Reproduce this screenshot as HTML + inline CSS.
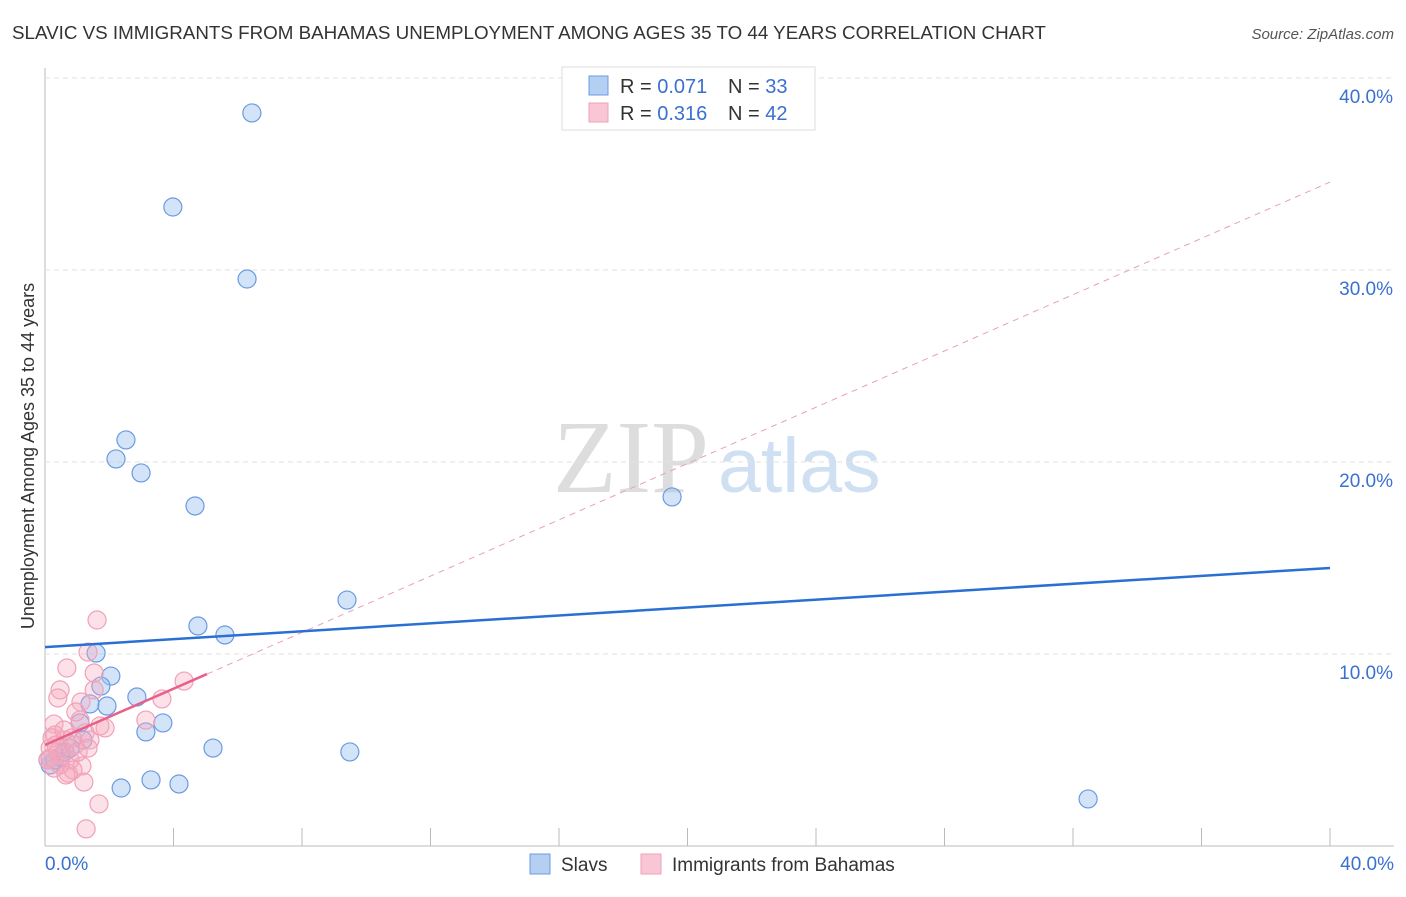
<!DOCTYPE html>
<html><head><meta charset="utf-8"><style>
body{margin:0;background:#fff;font-family:"Liberation Sans",sans-serif;}
</style></head><body>
<svg id="c" width="1406" height="892" xmlns="http://www.w3.org/2000/svg">
<text x="12" y="39" font-size="18.8" fill="#333">SLAVIC VS IMMIGRANTS FROM BAHAMAS UNEMPLOYMENT AMONG AGES 35 TO 44 YEARS CORRELATION CHART</text>
<text x="1394" y="39" font-size="15" fill="#555" text-anchor="end" font-style="italic">Source: ZipAtlas.com</text>
<text x="553" y="492" font-size="104" fill="#ddd" font-family="Liberation Serif,serif">ZIP</text>
<text x="718" y="492" font-size="77" fill="#cfe0f3">atlas</text>
<g id="grid"></g>
<g id="marks"></g>
<text transform="translate(34,456) rotate(-90)" font-size="18" fill="#333" text-anchor="middle">Unemployment Among Ages 35 to 44 years</text>
<g>
<rect x="562" y="67" width="253" height="63" fill="#fff" stroke="#ddd"/>
<rect x="589" y="76" width="19" height="19" fill="#b4cff2" stroke="#6a9be0"/>
<text x="620" y="93" font-size="20" fill="#333">R = <tspan fill="#3a70d0">0.071</tspan></text>
<text x="728" y="93" font-size="20" fill="#333">N = <tspan fill="#3a70d0">33</tspan></text>
<rect x="589" y="103" width="19" height="19" fill="#f8c6d4" stroke="#f0a0b8"/>
<text x="620" y="120" font-size="20" fill="#333">R = <tspan fill="#3a70d0">0.316</tspan></text>
<text x="728" y="120" font-size="20" fill="#333">N = <tspan fill="#3a70d0">42</tspan></text>
</g>
<g>
<rect x="530" y="854" width="20" height="20" fill="#b4cff2" stroke="#6a9be0"/>
<text x="561" y="871" font-size="19" fill="#333">Slavs</text>
<rect x="641" y="854" width="20" height="20" fill="#f8c6d4" stroke="#f0a0b8"/>
<text x="672" y="871" font-size="19" fill="#333">Immigrants from Bahamas</text>
</g>
</svg>
<script>
const yTicks=[10,20,30,40];
const yTickLabels=["10.0%","20.0%","30.0%","40.0%"];
const xTicks=[4,8,12,16,20,24,28,32,36,40];
const slavX=[6.44,3.98,6.29,2.52,2.21,2.99,4.67,19.52,9.40,4.76,5.60,1.59,2.05,1.74,1.40,1.93,2.86,3.67,3.14,1.09,1.18,5.23,9.49,2.37,3.30,4.17,32.47,0.16,0.31,0.47,0.62,0.09,0.78];
const slavY=[38.18,33.28,29.53,21.15,20.16,19.43,17.71,18.18,12.81,11.46,10.99,10.05,8.85,8.33,7.40,7.29,7.76,6.41,5.94,6.41,5.52,5.10,4.90,3.02,3.44,3.23,2.45,4.22,4.48,4.64,4.90,4.48,5.10];
const bahX=[1.62,1.34,0.68,0.47,0.40,1.53,1.53,1.12,1.25,1.87,4.33,3.64,3.14,1.09,0.28,0.31,0.62,0.93,0.16,0.40,0.53,0.09,0.78,1.15,0.72,0.87,1.21,1.68,1.28,0.22,0.34,0.59,0.84,1.40,0.47,0.65,0.16,1.03,1.34,0.28,1.71,0.96];
const bahY=[11.77,10.10,9.27,8.13,7.71,8.13,9.01,7.50,5.89,6.15,8.59,7.66,6.56,6.56,6.35,5.78,5.52,5.26,5.10,4.90,4.74,4.48,4.48,4.17,3.80,3.96,3.33,2.19,0.89,5.63,5.26,6.04,5.63,5.52,4.22,3.70,4.58,4.90,5.10,4.06,6.25,6.98];
const slavTrend=[10.36,14.48];
const bahTrend=[5.26,34.58];
const bahSolidEnd=5.04;
const X=v=>45+v/40*1285, Y=v=>846-v*19.2;
const NS="http://www.w3.org/2000/svg";
function mk(t,a,p){const e=document.createElementNS(NS,t);for(const k in a)e.setAttribute(k,a[k]);p.appendChild(e);return e;}
const g=document.getElementById('grid'), m=document.getElementById('marks');
mk('line',{x1:45,y1:68,x2:45,y2:846,stroke:'#bbb'},g);
mk('line',{x1:45,y1:846,x2:1394,y2:846,stroke:'#bbb'},g);
yTicks.forEach((t,i)=>{
 const l=mk('line',{x1:45,y1:Y(t),x2:1394,y2:Y(t),stroke:'#e2e2e2','stroke-dasharray':'5,4'},g);
 
 
 const tx=mk('text',{x:1393,y:Y(t)+25,'font-size':19,fill:'#3a70d0','text-anchor':'end'},g);
 tx.textContent=yTickLabels[i];
 
 
});
xTicks.forEach(t=>{
 const l=mk('line',{x1:X(t),y1:828,x2:X(t),y2:846,stroke:'#bbb'},g);
 
 
});
const x0=mk('text',{x:45,y:870,'font-size':19,fill:'#3a70d0'},g);x0.textContent='0.0%';


const x1=mk('text',{x:1394,y:870,'font-size':19,fill:'#3a70d0','text-anchor':'end'},g);x1.textContent='40.0%';


slavX.forEach((v,i)=>{
 const c=mk('circle',{cx:X(v),cy:Y(slavY[i]),r:9,fill:'rgba(160,196,240,0.45)',stroke:'#6a9be0','stroke-width':1.2},m);
 
 
});
bahX.forEach((v,i)=>{
 const c=mk('circle',{cx:X(v),cy:Y(bahY[i]),r:9,fill:'rgba(245,170,190,0.35)',stroke:'#f0a0b8','stroke-width':1.2},m);
 
 
});
const bt=(x)=>bahTrend[0]+(bahTrend[1]-bahTrend[0])*x/40;
const d=mk('line',{x1:X(bahSolidEnd),y1:Y(bt(bahSolidEnd)),x2:X(40),y2:Y(bahTrend[1]),stroke:'#e8a0b4','stroke-dasharray':'6,5','stroke-width':1},m);


const s=mk('line',{x1:X(0),y1:Y(bahTrend[0]),x2:X(bahSolidEnd),y2:Y(bt(bahSolidEnd)),stroke:'#e8608a','stroke-width':2.5},m);


const b=mk('line',{x1:X(0),y1:Y(slavTrend[0]),x2:X(40),y2:Y(slavTrend[1]),stroke:'#2a6fd4','stroke-width':2.5},m);


</script>
</body></html>
